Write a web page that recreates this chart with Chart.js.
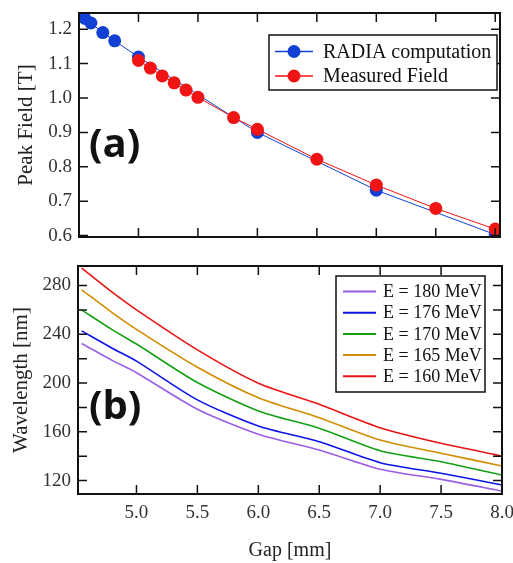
<!DOCTYPE html>
<html>
<head>
<meta charset="utf-8">
<script src="https://cdn.jsdelivr.net/npm/chart.js@4.4.1/dist/chart.umd.min.js"></script>
<style>
  html, body { margin: 0; padding: 0; background: #fff; }
  #wrap { position: relative; width: 513px; height: 563px; }
  canvas { position: absolute; left: 0; }
</style>
</head>
<body>
<div id="wrap">
  <canvas id="panelA" width="513" height="250" style="top:0"></canvas>
  <canvas id="panelB" width="513" height="313" style="top:250px"></canvas>
</div>
<script>
// panel (a): peak field vs gap
const radiaGap = [4.55, 4.6, 4.7, 4.8, 5.0, 6.0, 7.0, 8.0];
const radiaField = [1.231, 1.218, 1.190, 1.166, 1.119, 0.900, 0.732, 0.603];
const measGap = [5.0, 5.1, 5.2, 5.3, 5.4, 5.5, 5.8, 6.0, 6.5, 7.0, 7.5, 8.0];
const measField = [1.109, 1.087, 1.064, 1.044, 1.023, 1.002, 0.943, 0.909, 0.822, 0.747, 0.679, 0.619];
const fieldTicks = [0.6, 0.7, 0.8, 0.9, 1.0, 1.1, 1.2];
const gapTicks = [5.0, 5.5, 6.0, 6.5, 7.0, 7.5, 8.0];

// panel (b): wavelength vs gap
const gapB = [4.55, 4.8, 5.0, 5.5, 6.0, 6.5, 7.0, 7.5, 8.0];
const energyLabels = ['E = 180 MeV', 'E = 176 MeV', 'E = 170 MeV', 'E = 165 MeV', 'E = 160 MeV'];
const wl180 = [232.4, 218.6, 208.5, 178.5, 158.0, 145.1, 129.3, 121.0, 111.4];
const wl176 = [242.8, 228.6, 218.0, 186.2, 164.8, 151.9, 134.7, 126.0, 116.4];
const wl170 = [260.0, 243.8, 232.0, 200.4, 177.1, 162.9, 144.5, 135.5, 124.6];
const wl165 = [276.5, 257.8, 244.0, 213.0, 188.0, 171.6, 153.3, 142.4, 132.0];
const wl160 = [294.3, 274.5, 260.0, 227.2, 199.9, 182.6, 163.4, 150.6, 140.2];
const wlTicks = [120, 140, 160, 180, 200, 220, 240, 260, 280];
const wlLabelTicks = [120, 160, 200, 240, 280];

const serif = '"Liberation Serif", "Times New Roman", serif';
const pts = (xs, ys) => xs.map((v, i) => ({ x: v, y: ys[i] }));
const setTicks = list => scale => { scale.ticks = list.map(v => ({ value: v })); };
// keep the plot area where the layout padding puts it
const fixY = w => s => { s.width = w; s.paddingTop = 0; s.paddingBottom = 0; };
const fixX = h => s => { s.height = h; s.paddingLeft = 0; s.paddingRight = 0; };

// frame, inward ticks, panel letter and boxed legend
const framePlugin = {
  id: 'frame',
  afterDraw(chart, args, opts) {
    const { ctx, chartArea: a, scales: { x, y } } = chart;
    ctx.save();
    ctx.strokeStyle = '#111';
    ctx.lineWidth = 1.5;
    const len = 9;
    ctx.beginPath();
    x.ticks.forEach(t => {
      const px = x.getPixelForValue(t.value);
      ctx.moveTo(px, a.top); ctx.lineTo(px, a.top + len);
      ctx.moveTo(px, a.bottom); ctx.lineTo(px, a.bottom - len);
    });
    y.ticks.forEach(t => {
      const py = y.getPixelForValue(t.value);
      ctx.moveTo(a.left, py); ctx.lineTo(a.left + len, py);
      ctx.moveTo(a.right, py); ctx.lineTo(a.right - len, py);
    });
    ctx.stroke();
    ctx.lineWidth = 2;
    ctx.strokeRect(a.left, a.top, a.right - a.left, a.bottom - a.top);

    ctx.fillStyle = '#111';
    ctx.font = 'bold 40px "Open Sans", "Liberation Sans", sans-serif';
    ctx.textBaseline = 'alphabetic';
    ctx.fillText(opts.letter, opts.letterX, opts.letterY);

    const L = opts.legend;
    ctx.fillStyle = '#fff';
    ctx.fillRect(L.x, L.y, L.w, L.h);
    ctx.lineWidth = 1.5;
    ctx.strokeStyle = '#111';
    ctx.strokeRect(L.x, L.y, L.w, L.h);
    ctx.font = L.size + 'px ' + serif;
    ctx.textBaseline = 'middle';
    chart.data.datasets.forEach((ds, i) => {
      const cy = L.y + L.rowY + i * L.rowGap;
      ctx.strokeStyle = ds.borderColor;
      ctx.lineWidth = L.lineW;
      ctx.beginPath();
      ctx.moveTo(L.x + L.lineX0, cy); ctx.lineTo(L.x + L.lineX1, cy);
      ctx.stroke();
      if (L.dot) {
        ctx.fillStyle = ds.backgroundColor;
        ctx.beginPath();
        ctx.arc(L.x + (L.lineX0 + L.lineX1) / 2, cy, 6.5, 0, Math.PI * 2);
        ctx.fill();
      }
      ctx.fillStyle = '#111';
      ctx.fillText(ds.label, L.x + L.textX, cy + 1);
    });
    ctx.restore();
  }
};

const blue = '#1340d4';
const red = '#f01414';

new Chart(document.getElementById('panelA'), {
  type: 'line',
  data: {
    datasets: [
      { label: 'RADIA computation', data: pts(radiaGap, radiaField), borderColor: blue, backgroundColor: blue,
        borderWidth: 1, pointRadius: 6.5, pointBorderWidth: 0, order: 2 },
      { label: 'Measured Field', data: pts(measGap, measField), borderColor: red, backgroundColor: red,
        borderWidth: 1, pointRadius: 6.5, pointBorderWidth: 0, order: 1 }
    ]
  },
  options: {
    responsive: false,
    animation: false,
    layout: { padding: { top: 13, right: 13, left: 0, bottom: 0 } },
    plugins: {
      legend: { display: false },
      tooltip: { enabled: false },
      frame: { letter: '(a)', letterX: 89, letterY: 157,
        legend: { x: 269, y: 35, w: 228, h: 55, rowY: 16.5, rowGap: 24.5, size: 20,
          lineX0: 6, lineX1: 44, textX: 54, lineW: 1.5, dot: true } }
    },
    scales: {
      x: {
        type: 'linear', min: 4.5, max: 8.04,
        grid: { display: false, drawTicks: false }, border: { display: false },
        ticks: { display: false },
        afterBuildTicks: setTicks(gapTicks),
        afterFit: fixX(13)
      },
      y: {
        min: 0.596, max: 1.247,
        grid: { display: false, drawTicks: false }, border: { display: false },
        ticks: { padding: 7, color: '#333', font: { family: serif, size: 19 },
          callback: v => v.toFixed(1) },
        afterBuildTicks: setTicks(fieldTicks),
        afterFit: fixY(79),
        title: { display: true, text: 'Peak Field [T]', color: '#222',
          font: { family: serif, size: 21 }, padding: { top: 14, bottom: 0 } }
      }
    }
  },
  plugins: [framePlugin]
});

const wlSeries = [wl180, wl176, wl170, wl165, wl160];
const wlColors = ['#9b5de5', '#0a14e6', '#14a014', '#d28c00', '#eb1414'];

new Chart(document.getElementById('panelB'), {
  type: 'line',
  data: {
    datasets: wlSeries.map((s, i) => ({
      label: energyLabels[i], data: pts(gapB, s), borderColor: wlColors[i], backgroundColor: wlColors[i],
      borderWidth: 1.6, pointRadius: 0, tension: 0.25
    }))
  },
  options: {
    responsive: false,
    animation: false,
    layout: { padding: { top: 16, right: 11, left: 0, bottom: 0 } },
    plugins: {
      legend: { display: false },
      tooltip: { enabled: false },
      frame: { letter: '(b)', letterX: 89, letterY: 169,
        legend: { x: 336, y: 26, w: 149, h: 116, rowY: 15.5, rowGap: 21.2, size: 18,
          lineX0: 7, lineX1: 40, textX: 47, lineW: 2, dot: false } }
    },
    scales: {
      x: {
        type: 'linear', min: 4.52, max: 8.0,
        grid: { display: false, drawTicks: false }, border: { display: false },
        ticks: { padding: 8, color: '#333', font: { family: serif, size: 19 },
          maxRotation: 0, callback: v => v.toFixed(1) },
        afterBuildTicks: setTicks(gapTicks),
        afterFit: fixX(69),
        title: { display: true, text: 'Gap [mm]', color: '#222',
          font: { family: serif, size: 20 }, padding: { top: 0, bottom: 0 } }
      },
      y: {
        min: 109, max: 296,
        grid: { display: false, drawTicks: false }, border: { display: false },
        ticks: { padding: 7, color: '#333', font: { family: serif, size: 19 },
          callback: v => wlLabelTicks.includes(v) ? String(v) : '' },
        afterBuildTicks: setTicks(wlTicks),
        afterFit: fixY(78),
        title: { display: true, text: 'Wavelength [nm]', color: '#222',
          font: { family: serif, size: 21 }, padding: { top: 9, bottom: 0 } }
      }
    }
  },
  plugins: [framePlugin]
});
</script>
</body>
</html>
